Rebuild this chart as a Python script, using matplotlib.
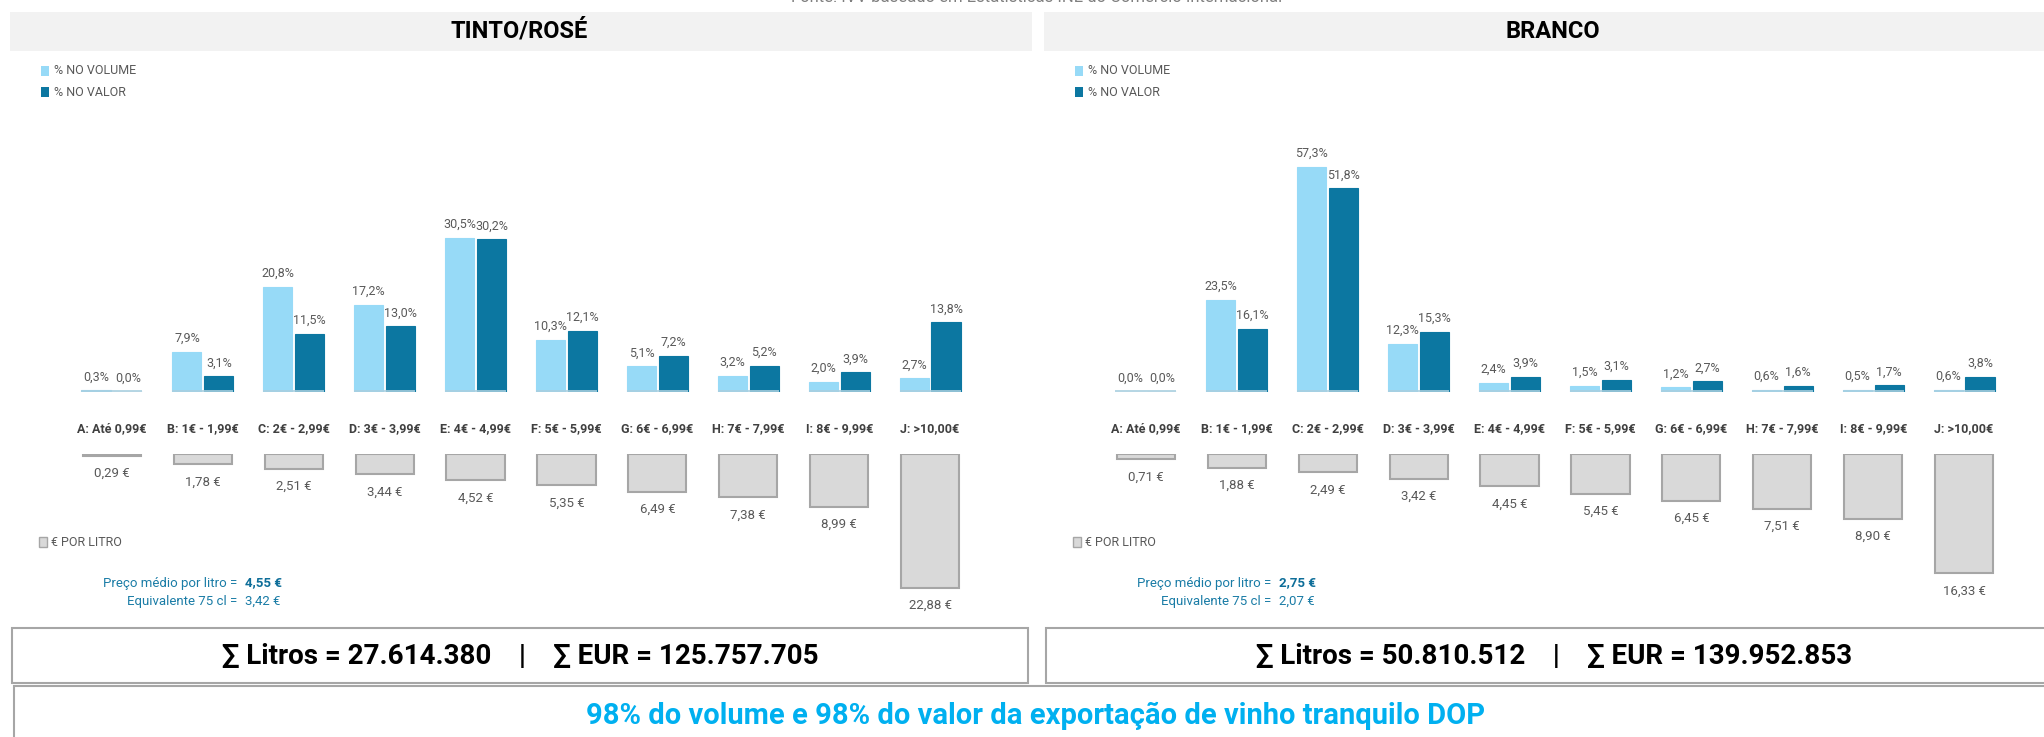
import numpy as np
import matplotlib
matplotlib.use("Agg")
import matplotlib.pyplot as plt
from matplotlib.patches import Rectangle

plt.rcParams['font.family'] = ['DejaVu Sans Condensed', 'Roboto', 'DejaVu Sans']

# data
cats = ['A: Até 0,99€', 'B: 1€ - 1,99€', 'C: 2€ - 2,99€', 'D: 3€ - 3,99€', 'E: 4€ - 4,99€',
        'F: 5€ - 5,99€', 'G: 6€ - 6,99€', 'H: 7€ - 7,99€', 'I: 8€ - 9,99€', 'J: >10,00€']
tinto_vol = [0.3, 7.9, 20.8, 17.2, 30.5, 10.3, 5.1, 3.2, 2.0, 2.7]
tinto_val = [0.0, 3.1, 11.5, 13.0, 30.2, 12.1, 7.2, 5.2, 3.9, 13.8]
tinto_preco = [0.29, 1.78, 2.51, 3.44, 4.52, 5.35, 6.49, 7.38, 8.99, 22.88]
branco_vol = [0.0, 23.5, 57.3, 12.3, 2.4, 1.5, 1.2, 0.6, 0.5, 0.6]
branco_val = [0.0, 16.1, 51.8, 15.3, 3.9, 3.1, 2.7, 1.6, 1.7, 3.8]
branco_preco = [0.71, 1.88, 2.49, 3.42, 4.45, 5.45, 6.45, 7.51, 8.90, 16.33]
titles = ['TINTO/ROSÉ', 'BRANCO']
preco_medio = ['4,55 €', '2,75 €']
equiv_75 = ['3,42 €', '2,07 €']
litros = ['27.614.380', '50.810.512']
eur = ['125.757.705', '139.952.853']

LIGHT = '#97DAF7'
DARK = '#0C77A1'
GREY_BAR = '#D9D9D9'
GREY_EDGE = '#A6A6A6'
TXT = '#595959'
TEAL = '#1A7CA6'

W, H = 2044, 737
fig = plt.figure(figsize=(W / 100, H / 100), dpi=100)


def px_axes(x, y, w, h):
    return fig.add_axes([x / W, 1 - (y + h) / H, w / W, h / H])


def rect(x, y, w, h, **kw):
    fig.patches.append(Rectangle((x / W, 1 - (y + h) / H), w / W, h / H,
                                 transform=fig.transFigure, **kw))


def txt(x, y, s, **kw):
    fig.text(x / W, 1 - y / H, s, **kw)


def pct(v):
    return f"{v:.1f}".replace('.', ',') + '%'


def euro(v):
    return f"{v:.2f}".replace('.', ',') + ' €'


def panel(dx, title, vol, val, preco, pct_scale, eur_scale, medio, eq, lit, e):
    x = np.arange(len(cats))
    # header band
    rect(10 + dx, 12, 1022 if dx == 0 else 1010, 39, facecolor='#F2F2F2', edgecolor='none')
    txt(519 + dx, 31, title, ha='center', va='center', fontsize=17, fontweight='bold', color='black')

    # legend
    rect(41 + dx, 66, 8, 10, facecolor=LIGHT, edgecolor='none')
    txt(54 + dx, 71, '% NO VOLUME', ha='left', va='center', fontsize=9, color=TXT)
    rect(41 + dx, 87, 8, 10, facecolor=DARK, edgecolor='none')
    txt(54 + dx, 92, '% NO VALOR', ha='left', va='center', fontsize=9, color=TXT)

    # percentage bars
    ax = px_axes(66.5 + dx, 110, 909, 282)
    ax.bar(x - 0.175, vol, 0.32, color=LIGHT, edgecolor=LIGHT, linewidth=0.8)
    ax.bar(x + 0.175, val, 0.32, color=DARK, edgecolor=DARK, linewidth=0.8)
    # zero-ish values still show as a thin line in the original
    ax.hlines([0.15] * len(cats), x - 0.335, x + 0.335, color='#A9CFDF', linewidth=1.2)
    for i in range(len(cats)):
        ax.annotate(pct(vol[i]), (x[i] - 0.175, vol[i]), xytext=(0, 5), textcoords='offset points',
                    ha='center', va='bottom', fontsize=9, color=TXT)
        ax.annotate(pct(val[i]), (x[i] + 0.175, val[i]), xytext=(0, 5), textcoords='offset points',
                    ha='center', va='bottom', fontsize=9, color=TXT)
    ax.set_xlim(-0.5, 9.5)
    ax.set_ylim(0, 282 / pct_scale)
    ax.axis('off')

    # category labels
    for i in range(len(cats)):
        txt(112 + dx + i * 90.9, 429, cats[i], ha='center', va='center', fontsize=9,
            fontweight='bold', color='#404040')

    # price per litre bars (hanging down)
    ax2 = px_axes(66.5 + dx, 454, 909, 170)
    ax2.bar(x, preco, 0.64, color=GREY_BAR, edgecolor=GREY_EDGE, linewidth=1.5)
    for i in range(len(cats)):
        ax2.annotate(euro(preco[i]), (x[i], preco[i]), xytext=(0, -8), textcoords='offset points',
                     ha='center', va='top', fontsize=9.5, color=TXT)
    ax2.set_xlim(-0.5, 9.5)
    ax2.set_ylim(170 / eur_scale, 0)
    ax2.axis('off')

    rect(39 + dx, 537, 8, 10, facecolor=GREY_BAR, edgecolor=GREY_EDGE, linewidth=1)
    txt(51 + dx, 542, '€ POR LITRO', ha='left', va='center', fontsize=9, color=TXT)

    txt(237 + dx, 583, 'Preço médio por litro =', ha='right', va='center', fontsize=9.5, color=TEAL)
    txt(245 + dx, 583, medio, ha='left', va='center', fontsize=9.5, fontweight='bold', color='#0E6E99')
    txt(237 + dx, 601, 'Equivalente 75 cl =', ha='right', va='center', fontsize=9.5, color=TEAL)
    txt(245 + dx, 601, eq, ha='left', va='center', fontsize=9.5, color=TEAL)

    # totals box
    rect(12 + dx, 628, 1016, 55, facecolor='white', edgecolor='#A6A6A6', linewidth=1.5)
    txt(520 + dx, 657, '∑ Litros = ' + lit + '    |    ∑ EUR = ' + e, ha='center', va='center',
        fontsize=20, fontweight='bold', color='black')


panel(0, titles[0], tinto_vol, tinto_val, tinto_preco, 5.05, 5.86,
      preco_medio[0], equiv_75[0], litros[0], eur[0])
panel(1034, titles[1], branco_vol, branco_val, branco_preco, 3.93, 7.3,
      preco_medio[1], equiv_75[1], litros[1], eur[1])

# bottom banner
rect(14, 686, 2040, 60, facecolor='white', edgecolor='#A6A6A6', linewidth=1.5)
txt(1036, 716, '98% do volume e 98% do valor da exportação de vinho tranquilo DOP', ha='center',
    va='center', fontsize=21, fontweight='bold', color='#00B0F0')

# source line, mostly cut off at the top edge
txt(1037, 2, 'Fonte: IVV baseado em Estatísticas INE do Comércio Internacional', ha='center',
    va='baseline', fontsize=12, color='#7F7F7F')

fig.savefig('out.png', dpi=100)
